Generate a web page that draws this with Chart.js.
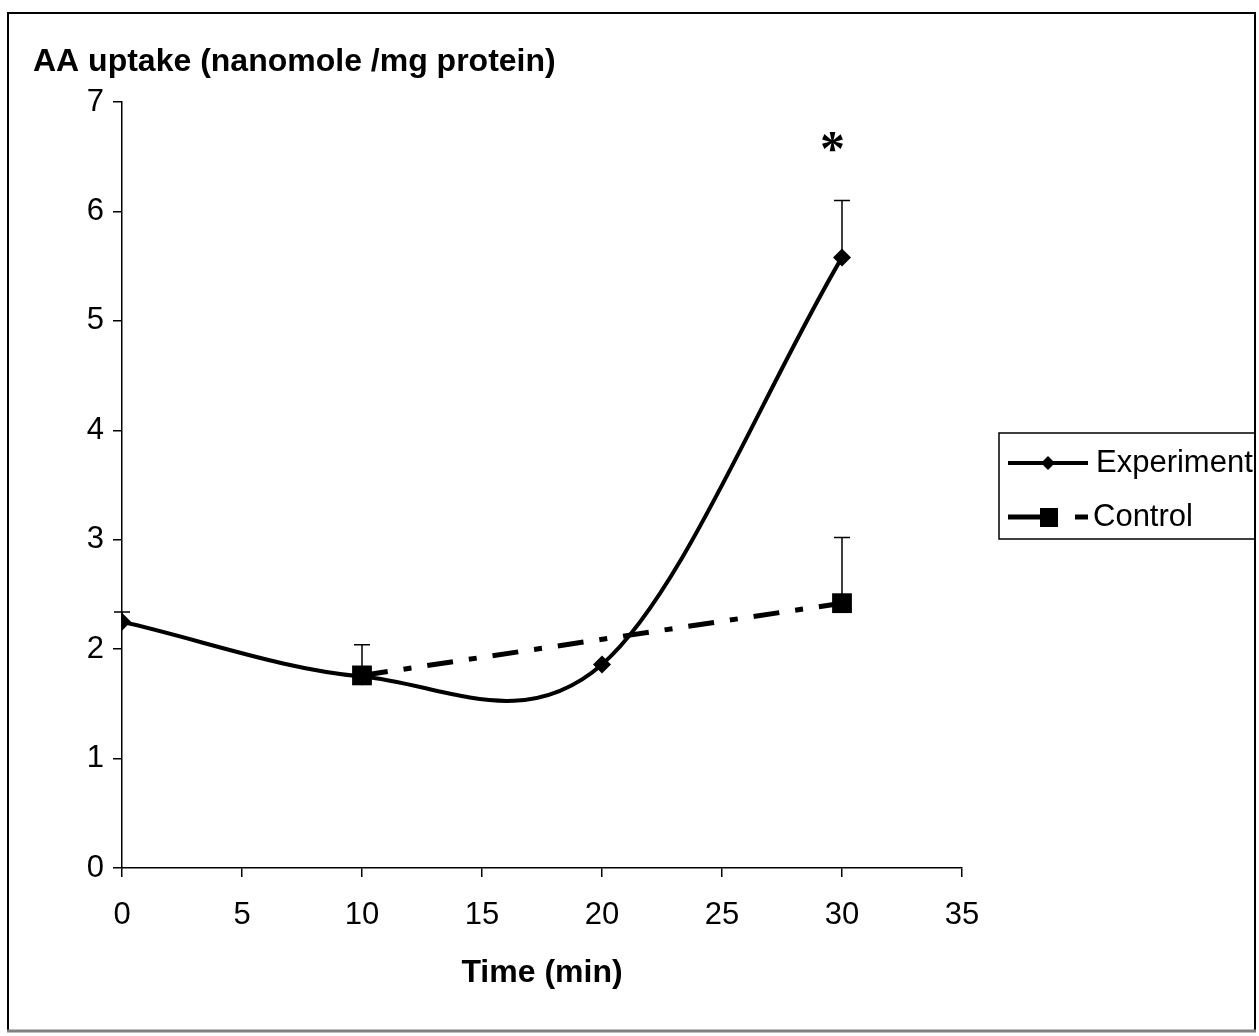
<!DOCTYPE html>
<html>
<head>
<meta charset="utf-8">
<script src="https://cdn.jsdelivr.net/npm/chart.js@4.4.1/dist/chart.umd.min.js"></script>
<style>
  html, body { margin: 0; padding: 0; background: #fff; overflow: hidden; }
  canvas { display: block; }
</style>
</head>
<body>
<canvas id="chart" width="1259" height="1036"></canvas>
<script>
// data
const times = [0, 10, 20, 30];
const experiment = [2.25, 1.75, 1.86, 5.58];
const experimentErr = [0.09, 0, 0, 0.52];
const controlTimes = [10, 30];
const control = [1.76, 2.42];
const controlErr = [0.28, 0.60];
const seriesNames = ['Experiment', 'Control'];
const starTimes = [29.6];
const starValues = [6.63];

const FONT = '"Liberation Sans", Arial, sans-serif';

function pairs(xs, ys) {
    return xs.map((x, i) => ({x: x, y: ys[i]}));
}

const framePlugin = {
    id: 'frame',
    beforeDraw: function (chart) {
        const ctx = chart.ctx;
        ctx.save();
        ctx.fillStyle = '#fff';
        ctx.fillRect(0, 0, chart.width, chart.height);
        ctx.strokeStyle = '#000';
        ctx.lineWidth = 2;
        ctx.beginPath();
        ctx.moveTo(8, 1031);
        ctx.lineTo(8, 13);
        ctx.lineTo(1255, 13);
        ctx.lineTo(1255, 1031);
        ctx.stroke();
        ctx.strokeStyle = '#808080';
        ctx.lineWidth = 3;
        ctx.beginPath();
        ctx.moveTo(7, 1031);
        ctx.lineTo(1256, 1031);
        ctx.stroke();

        // y axis title, horizontal above the axis
        ctx.fillStyle = '#000';
        ctx.font = 'bold 32px ' + FONT;
        ctx.textAlign = 'left';
        ctx.textBaseline = 'middle';
        ctx.fillText('AA uptake (nanomole /mg protein)', 33, 62);
        ctx.restore();
    }
};

// Excel style smoothing: control points at 1/6 of the neighbour chord
const excelSmoothPlugin = {
    id: 'excelSmooth',
    beforeDatasetDraw: function (chart, args) {
        const ds = chart.data.datasets[args.index];
        if (!ds.excelSmooth) return;
        const meta = args.meta;
        const line = meta.dataset;
        const pts = meta.data;
        line.updateControlPoints(chart.chartArea, 'x');
        pts.forEach((p, i) => {
            const prev = pts[i - 1];
            const next = pts[i + 1];
            if (prev && next) {
                const dx = (next.x - prev.x) / 6, dy = (next.y - prev.y) / 6;
                p.cp1x = p.x - dx; p.cp1y = p.y - dy;
                p.cp2x = p.x + dx; p.cp2y = p.y + dy;
            } else if (next) {
                p.cp1x = p.x; p.cp1y = p.y;
                p.cp2x = p.x + (next.x - p.x) / 3; p.cp2y = p.y + (next.y - p.y) / 3;
            } else if (prev) {
                p.cp1x = p.x - (p.x - prev.x) / 3; p.cp1y = p.y - (p.y - prev.y) / 3;
                p.cp2x = p.x; p.cp2y = p.y;
            }
        });
        line._path = undefined;
    }
};

const errorBarPlugin = {
    id: 'errorBars',
    beforeDatasetsDraw: function (chart) {
        const ctx = chart.ctx;
        const ys = chart.scales.y;
        ctx.save();
        ctx.strokeStyle = '#000';
        ctx.lineWidth = 1.5;
        chart.data.datasets.forEach((ds, di) => {
            if (!ds.err) return;
            const meta = chart.getDatasetMeta(di);
            meta.data.forEach((pt, i) => {
                const e = ds.err[i];
                if (!e) return;
                const top = ys.getPixelForValue(ds.data[i].y + e);
                ctx.beginPath();
                ctx.moveTo(pt.x, pt.y);
                ctx.lineTo(pt.x, top);
                ctx.moveTo(pt.x - 8, top);
                ctx.lineTo(pt.x + 8, top);
                ctx.stroke();
            });
        });
        ctx.restore();
    },
    afterDatasetsDraw: function (chart) {
        const ctx = chart.ctx;
        const xs = chart.scales.x;
        const ys = chart.scales.y;
        ctx.save();
        ctx.fillStyle = '#000';
        ctx.font = 'bold 50px "Liberation Serif", "Times New Roman", serif';
        ctx.textAlign = 'center';
        ctx.textBaseline = 'middle';
        starTimes.forEach((t, i) => {
            ctx.fillText('*', xs.getPixelForValue(t), ys.getPixelForValue(starValues[i]) + 10);
        });
        ctx.restore();
    }
};

const legendPlugin = {
    id: 'boxLegend',
    afterDraw: function (chart) {
        const ctx = chart.ctx;
        ctx.save();
        ctx.beginPath();
        ctx.rect(0, 0, 1254, chart.height);
        ctx.clip();
        ctx.strokeStyle = '#000';
        ctx.lineWidth = 1.5;
        ctx.strokeRect(999, 433, 300, 106);

        // Experiment sample
        ctx.lineWidth = 4;
        ctx.beginPath();
        ctx.moveTo(1008, 463);
        ctx.lineTo(1088, 463);
        ctx.stroke();
        ctx.fillStyle = '#000';
        ctx.beginPath();
        ctx.moveTo(1048, 456);
        ctx.lineTo(1055, 463);
        ctx.lineTo(1048, 470);
        ctx.lineTo(1041, 463);
        ctx.closePath();
        ctx.fill();

        // Control sample
        ctx.lineWidth = 5;
        ctx.beginPath();
        ctx.moveTo(1008, 517);
        ctx.lineTo(1044, 517);
        ctx.moveTo(1075, 517);
        ctx.lineTo(1088, 517);
        ctx.stroke();
        ctx.fillRect(1040, 508, 18, 19);

        ctx.font = '31px ' + FONT;
        ctx.textAlign = 'left';
        ctx.textBaseline = 'middle';
        ctx.fillText(seriesNames[0], 1096, 463);
        ctx.fillText(seriesNames[1], 1093, 517);
        ctx.restore();
    }
};

const axisStyle = {
    grid: {display: true, drawOnChartArea: false, drawTicks: true, tickLength: 9, color: '#000', lineWidth: 1.5},
    border: {display: true, color: '#000', width: 1.5}
};

new Chart(document.getElementById('chart').getContext('2d'), {
    type: 'line',
    data: {
        datasets: [
            {
                label: seriesNames[0],
                data: pairs(times, experiment),
                err: experimentErr,
                excelSmooth: true,
                borderColor: '#000',
                backgroundColor: '#000',
                borderWidth: 4,
                tension: 0.4,
                fill: false,
                pointStyle: 'rectRot',
                pointRadius: 9,
                pointBorderWidth: 0,
                pointBackgroundColor: '#000'
            },
            {
                label: seriesNames[1],
                data: pairs(controlTimes, control),
                err: controlErr,
                borderColor: '#000',
                backgroundColor: '#000',
                borderWidth: 5,
                borderDash: [26, 16, 8, 16],
                tension: 0,
                fill: false,
                pointStyle: 'rect',
                pointRadius: 14,
                pointBorderWidth: 0,
                pointBackgroundColor: '#000'
            }
        ]
    },
    options: {
        responsive: false,
        animation: false,
        devicePixelRatio: 1,
        layout: {padding: {left: 0, top: 102, right: 297, bottom: 0}},
        plugins: {legend: {display: false}, tooltip: {enabled: false}},
        scales: {
            x: Object.assign({
                type: 'linear',
                min: 0,
                max: 35,
                ticks: {stepSize: 5, color: '#000', font: {family: FONT, size: 31}, padding: 20, maxRotation: 0},
                title: {display: true, text: 'Time (min)', color: '#000', font: {family: FONT, size: 32, weight: 'bold'}, padding: {top: 0, bottom: 44}},
                afterFit: function (scale) { scale.height = 168; }
            }, axisStyle),
            y: Object.assign({
                type: 'linear',
                min: 0,
                max: 7,
                ticks: {stepSize: 1, color: '#000', font: {family: FONT, size: 31}, padding: 9},
                afterFit: function (scale) { scale.width = 122; }
            }, axisStyle)
        }
    },
    plugins: [framePlugin, excelSmoothPlugin, errorBarPlugin, legendPlugin]
});
</script>
</body>
</html>
